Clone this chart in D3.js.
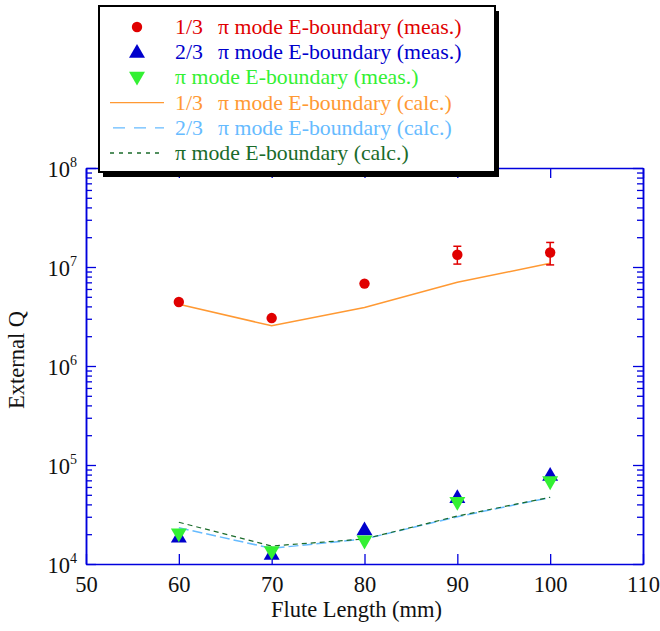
<!DOCTYPE html>
<html>
<head>
<meta charset="utf-8">
<script src="https://cdn.jsdelivr.net/npm/d3@7"></script>
<style>
  body { margin: 0; background: #fff; }
  svg { font-family: "Liberation Serif", "Times New Roman", serif; }
</style>
</head>
<body>
<svg id="chart" width="660" height="631"></svg>
<script>
var lengths = [60, 70, 80, 90, 100];
var meas13 = [4.43e6, 3.05e6, 6.8e6, 1.33e7, 1.40e7];
var err13Low = [null, null, null, 1.07e7, 1.05e7];
var err13High = [null, null, null, 1.62e7, 1.77e7];
var meas23 = [1.83e4, 1.23e4, 2.17e4, 4.6e4, 7.7e4];
var measPi = [2.05e4, 1.36e4, 1.74e4, 4.27e4, 6.9e4];
var calc13 = [4.2e6, 2.55e6, 3.9e6, 7.0e6, 1.09e7];
var calc23 = [2.32e4, 1.44e4, 1.79e4, 3.0e4, 4.7e4];
var calcPi = [2.64e4, 1.52e4, 1.79e4, 3.05e4, 4.72e4];

var xTicks = [50, 60, 70, 80, 90, 100, 110];
var yMajor = [1e4, 1e5, 1e6, 1e7, 1e8];

var legendItems = [
  {pre: "1/3", text: "mode E-boundary (meas.)", color: "#e00000", mark: "circle"},
  {pre: "2/3", text: "mode E-boundary (meas.)", color: "#0000cc", mark: "up"},
  {pre: "", text: "mode E-boundary (meas.)", color: "#33f033", mark: "down"},
  {pre: "1/3", text: "mode E-boundary (calc.)", color: "#ff9933", mark: "solid"},
  {pre: "2/3", text: "mode E-boundary (calc.)", color: "#66bbff", mark: "longdash"},
  {pre: "", text: "mode E-boundary (calc.)", color: "#1a6b2a", mark: "shortdash"}
];

var plotL = 86, plotR = 643, plotT = 168, plotB = 564;
var axisColor = "#0000dd";
var fontSize = 22.5;

var x = d3.scaleLinear().domain([50, 110]).range([plotL, plotR]);
var y = d3.scaleLog().domain([1e4, 1e8]).range([plotB, plotT]);

var yMinor = [];
yMajor.slice(0, -1).forEach(function(d) {
  for (var k = 2; k <= 9; k++) yMinor.push(d * k);
});

var svg = d3.select("#chart");

function styleAxis(g) {
  g.select(".domain").attr("stroke", axisColor).attr("stroke-width", 1.5);
  g.selectAll(".tick line").attr("stroke", axisColor).attr("stroke-width", 1.3);
  g.selectAll("text").attr("fill", "#111").attr("font-size", fontSize)
    .attr("font-family", "Liberation Serif, serif");
}

// x axes
svg.append("g")
  .attr("transform", "translate(0," + plotB + ")")
  .call(d3.axisBottom(x).tickValues(xTicks).tickSizeInner(-10).tickSizeOuter(0).tickPadding(12))
  .call(styleAxis);
svg.append("g")
  .attr("transform", "translate(0," + plotT + ")")
  .call(d3.axisTop(x).tickValues(xTicks).tickSizeInner(-10).tickSizeOuter(0).tickFormat(""))
  .call(styleAxis);

// y axes, majors then minors
var yLeft = svg.append("g")
  .attr("transform", "translate(" + plotL + ",0)")
  .call(d3.axisLeft(y).tickValues(yMajor).tickSizeInner(-10).tickSizeOuter(0).tickPadding(9)
    .tickFormat(function() { return ""; }))
  .call(styleAxis);
yLeft.selectAll(".tick text").each(function(d) {
  var t = d3.select(this).attr("dy", null).attr("y", 8);
  t.append("tspan").text("10");
  t.append("tspan").attr("dy", -10).attr("font-size", 14).text(Math.round(Math.log10(d)));
});
svg.append("g")
  .attr("transform", "translate(" + plotL + ",0)")
  .call(d3.axisLeft(y).tickValues(yMinor).tickSizeInner(-6).tickSizeOuter(0).tickFormat(""))
  .call(styleAxis);
svg.append("g")
  .attr("transform", "translate(" + plotR + ",0)")
  .call(d3.axisRight(y).tickValues(yMajor).tickSizeInner(-10).tickSizeOuter(0).tickFormat(""))
  .call(styleAxis);
svg.append("g")
  .attr("transform", "translate(" + plotR + ",0)")
  .call(d3.axisRight(y).tickValues(yMinor).tickSizeInner(-6).tickSizeOuter(0).tickFormat(""))
  .call(styleAxis);

// axis titles
svg.append("text")
  .attr("x", (plotL + plotR) / 2 - 8).attr("y", 617)
  .attr("text-anchor", "middle").attr("font-size", fontSize).attr("fill", "#111")
  .text("Flute Length (mm)");
svg.append("text")
  .attr("transform", "translate(24," + 360 + ") rotate(-90)")
  .attr("text-anchor", "middle").attr("font-size", fontSize).attr("fill", "#111")
  .text("External Q");

// calculated lines
function lineOf(vals) {
  return d3.line().x(function(d, i) { return x(lengths[i]); }).y(function(d) { return y(d); })(vals);
}
svg.append("path").attr("d", lineOf(calc13)).attr("fill", "none")
  .attr("stroke", "#ff9933").attr("stroke-width", 1.5);
svg.append("path").attr("d", lineOf(calc23)).attr("fill", "none")
  .attr("stroke", "#66bbff").attr("stroke-width", 1.5).attr("stroke-dasharray", "10,4");
svg.append("path").attr("d", lineOf(calcPi)).attr("fill", "none")
  .attr("stroke", "#1a6b2a").attr("stroke-width", 1.2).attr("stroke-dasharray", "5,4");

// error bars
lengths.forEach(function(L, i) {
  if (err13Low[i] == null) return;
  var g = svg.append("g").attr("stroke", "#e00000").attr("stroke-width", 1.5);
  g.append("line").attr("x1", x(L)).attr("x2", x(L)).attr("y1", y(err13Low[i])).attr("y2", y(err13High[i]));
  g.append("line").attr("x1", x(L) - 4).attr("x2", x(L) + 4).attr("y1", y(err13Low[i])).attr("y2", y(err13Low[i]));
  g.append("line").attr("x1", x(L) - 4).attr("x2", x(L) + 4).attr("y1", y(err13High[i])).attr("y2", y(err13High[i]));
});

var triSize = 110;
var tri = d3.symbol().type(d3.symbolTriangle).size(triSize);

// measured markers
svg.selectAll(".m13").data(meas13).enter().append("circle")
  .attr("cx", function(d, i) { return x(lengths[i]); })
  .attr("cy", function(d) { return y(d); })
  .attr("r", 5.2).attr("fill", "#e00000");
svg.selectAll(".m23").data(meas23).enter().append("path")
  .attr("d", tri)
  .attr("transform", function(d, i) { return "translate(" + x(lengths[i]) + "," + y(d) + ")"; })
  .attr("fill", "#0000cc");
svg.selectAll(".mpi").data(measPi).enter().append("path")
  .attr("d", tri)
  .attr("transform", function(d, i) { return "translate(" + x(lengths[i]) + "," + y(d) + ") rotate(180)"; })
  .attr("fill", "#33f033");

// legend
var lg = svg.append("g");
lg.append("rect").attr("x", 103).attr("y", 11).attr("width", 396).attr("height", 166).attr("fill", "#000");
lg.append("rect").attr("x", 99).attr("y", 6).attr("width", 396).attr("height", 166)
  .attr("fill", "#fff").attr("stroke", "#000").attr("stroke-width", 2);

legendItems.forEach(function(item, i) {
  var cy = 27 + i * 25.2;
  var mx = 137;
  if (item.mark === "circle") {
    lg.append("circle").attr("cx", mx).attr("cy", cy).attr("r", 5.2).attr("fill", item.color);
  } else if (item.mark === "up") {
    lg.append("path").attr("d", tri).attr("transform", "translate(" + mx + "," + (cy + 1) + ")").attr("fill", item.color);
  } else if (item.mark === "down") {
    lg.append("path").attr("d", tri).attr("transform", "translate(" + mx + "," + (cy - 1) + ") rotate(180)").attr("fill", item.color);
  } else {
    var ln = lg.append("line").attr("x1", 110).attr("x2", 164).attr("y1", cy).attr("y2", cy)
      .attr("stroke", item.color).attr("stroke-width", 1.3);
    if (item.mark === "longdash") ln.attr("stroke-dasharray", "12,9").attr("x1", 113);
    if (item.mark === "shortdash") ln.attr("stroke-dasharray", "4,5");
  }
  var t = lg.append("text").attr("x", 175).attr("y", cy + 7)
    .attr("font-size", 21.8).attr("fill", item.color);
  if (item.pre) {
    t.append("tspan").text(item.pre);
    t.append("tspan").attr("x", 218).text("\u03c0 " + item.text);
  } else {
    t.append("tspan").text("\u03c0 " + item.text);
  }
});
</script>
</body>
</html>
